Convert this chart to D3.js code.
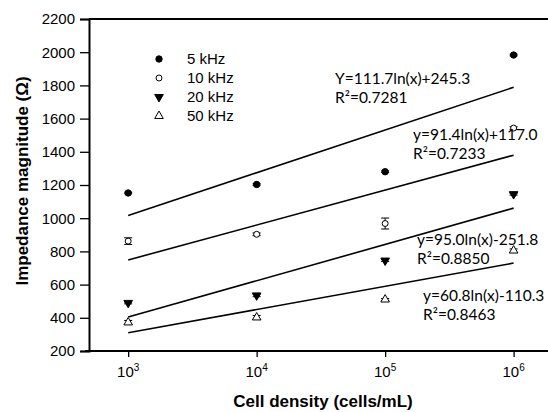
<!DOCTYPE html>
<html>
<head>
<meta charset="utf-8">
<script src="https://cdn.jsdelivr.net/npm/d3@7"></script>
<style>
body { margin: 0; background: #fff; }
svg { display: block; }
</style>
</head>
<body>
<svg id="chart" width="548" height="412"></svg>
<script>
// data
var densities = [1e3, 1e4, 1e5, 1e6];
var freqs = ["5 kHz", "10 kHz", "20 kHz", "50 kHz"];
var z5 = [1152, 1203, 1280, 1983];
var z10 = [862, 903, 968, 1543];
var z20 = [490, 535, 745, 1145];
var z50 = [372, 402, 510, 805];
var err5 = [5, 5, 5, 5];
var err10 = [20, 8, 33, 8];
var err20 = [6, 8, 6, 6];
var err50 = [12, 12, 6, 10];
// fit coefficients y = a ln(x) + b
var fitA = [111.7, 91.4, 95.0, 60.8];
var fitB = [245.3, 117.0, -251.8, -110.3];
var fitLabels = ["Y=111.7ln(x)+245.3", "y=91.4ln(x)+117.0", "y=95.0ln(x)-251.8", "y=60.8ln(x)-110.3"];
var r2Labels = ["0.7281", "0.7233", "0.8850", "0.8463"];
var yTicks = [200, 400, 600, 800, 1000, 1200, 1400, 1600, 1800, 2000, 2200];
var xTickExp = [3, 4, 5, 6];

function draw()
{
    var svg = d3.select("#chart");
    var pLeft = 89, pTop = 19, pBottom = 351, pRight = 565;

    var x = d3.scaleLog().domain([Math.pow(10, 2.695), Math.pow(10, 6.4)]).range([pLeft, pRight]);
    var y = d3.scaleLinear().domain([200, 2200]).range([pBottom, pTop]);

    var series = [z5, z10, z20, z50];
    var errs = [err5, err10, err20, err50];

    // axes
    var yAxis = svg.append("g")
        .attr("transform", "translate(" + pLeft + ",0)")
        .call(d3.axisLeft(y).tickValues(yTicks).tickSize(9).tickPadding(5).tickFormat(d3.format("d")));
    yAxis.select(".domain").attr("stroke-width", 2);
    yAxis.selectAll(".tick line").attr("stroke-width", 1.3);
    yAxis.selectAll("text").style("font-family", "Liberation Sans, Arial").style("font-size", "15px").attr("fill", "#000");

    var xAxis = svg.append("g")
        .attr("transform", "translate(0," + pBottom + ")")
        .call(d3.axisBottom(x).tickValues(xTickExp.map(function(e) { return Math.pow(10, e); })).tickSize(6).tickFormat(""));
    xAxis.select(".domain").attr("stroke-width", 2).attr("d", "M85,0H" + pRight);
    xAxis.selectAll(".tick line").attr("stroke-width", 1.3);

    svg.append("line")
        .attr("x1", pLeft).attr("x2", pRight).attr("y1", pTop).attr("y2", pTop)
        .attr("stroke", "#000").attr("stroke-width", 2);

    // x tick labels 10^n
    var xl = svg.append("g").selectAll("text").data(xTickExp).enter().append("text")
        .attr("x", function(d) { return x(Math.pow(10, d)); })
        .attr("y", 377)
        .attr("text-anchor", "middle")
        .style("font-family", "Liberation Sans, Arial").style("font-size", "15px");
    xl.append("tspan").text("10");
    xl.append("tspan").attr("dy", -6).style("font-size", "10px").text(function(d) { return d; });

    // axis titles
    svg.append("text")
        .attr("x", 323).attr("y", 407)
        .attr("text-anchor", "middle")
        .style("font-family", "Liberation Sans, Arial").style("font-size", "17px").style("font-weight", "bold")
        .text("Cell density (cells/mL)");
    svg.append("text")
        .attr("transform", "translate(28,181) rotate(-90)")
        .attr("text-anchor", "middle")
        .style("font-family", "Liberation Sans, Arial").style("font-size", "17px").style("font-weight", "bold")
        .text("Impedance magnitude (\u03A9)");

    // fit lines
    var fitG = svg.append("g");
    fitA.forEach(function(a, i) {
        var lo = densities[0], hi = densities[densities.length - 1];
        fitG.append("line")
            .attr("x1", x(lo)).attr("y1", y(a * Math.log(lo) + fitB[i]))
            .attr("x2", x(hi)).attr("y2", y(a * Math.log(hi) + fitB[i]))
            .attr("stroke", "#000").attr("stroke-width", 1.6);
    });

    // marker shapes
    var symbols = [
        {type: d3.symbolCircle, size: 32, fill: "#000", rot: 0},
        {type: d3.symbolCircle, size: 28, fill: "#fff", rot: 0},
        {type: d3.symbolTriangle, size: 32, fill: "#000", rot: 180},
        {type: d3.symbolTriangle, size: 32, fill: "#fff", rot: 0}
    ];

    var ptG = svg.append("g");
    series.forEach(function(vals, i) {
        var g = ptG.append("g");
        vals.forEach(function(v, j) {
            var cx = x(densities[j]);
            var e = errs[i][j];
            g.append("line").attr("x1", cx).attr("x2", cx).attr("y1", y(v - e)).attr("y2", y(v + e))
                .attr("stroke", "#000").attr("stroke-width", 1);
            [v - e, v + e].forEach(function(t) {
                g.append("line").attr("x1", cx - 4).attr("x2", cx + 4).attr("y1", y(t)).attr("y2", y(t))
                    .attr("stroke", "#000").attr("stroke-width", 1);
            });
            g.append("path")
                .attr("d", d3.symbol().type(symbols[i].type).size(symbols[i].size))
                .attr("transform", "translate(" + cx + "," + y(v) + ") rotate(" + symbols[i].rot + ")")
                .attr("fill", symbols[i].fill).attr("stroke", "#000").attr("stroke-width", 1);
        });
    });

    // legend
    var legX = 159, legY = [59, 78, 97, 116];
    freqs.forEach(function(f, i) {
        svg.append("path")
            .attr("d", d3.symbol().type(symbols[i].type).size(symbols[i].size))
            .attr("transform", "translate(" + legX + "," + legY[i] + ") rotate(" + symbols[i].rot + ")")
            .attr("fill", symbols[i].fill).attr("stroke", "#000").attr("stroke-width", 1);
        svg.append("text")
            .attr("x", 187).attr("y", legY[i] + 5)
            .style("font-family", "Liberation Sans, Arial").style("font-size", "15px")
            .text(f);
    });

    // fit annotations
    var annX = [335, 413, 417, 423], annY = [84, 140, 245, 301];
    fitLabels.forEach(function(t, i) {
        svg.append("text")
            .attr("x", annX[i]).attr("y", annY[i])
            .style("font-family", "Lato, sans-serif").style("font-size", "15.5px")
            .text(t);
        svg.append("text")
            .attr("x", annX[i]).attr("y", annY[i] + 19)
            .style("font-family", "Lato, sans-serif").style("font-size", "15.5px")
            .text("R\u00B2=" + r2Labels[i]);
    });
}

draw();
</script>
</body>
</html>
